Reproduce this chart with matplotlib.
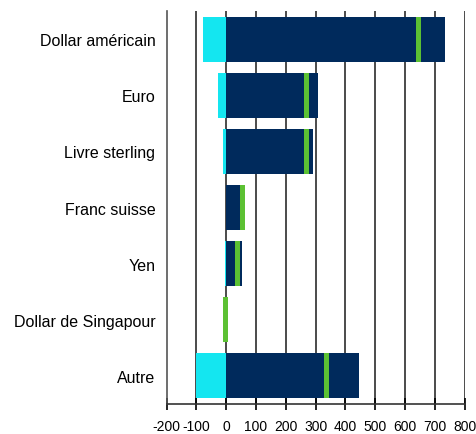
import matplotlib.pyplot as plt
import numpy as np

plt.rcParams["font.family"] = ["Liberation Sans", "DejaVu Sans"]
plt.rcParams["axes.unicode_minus"] = False

categories = ["Dollar américain", "Euro", "Livre sterling", "Franc suisse",
              "Yen", "Dollar de Singapour", "Autre"]
negatives = [-77, -27, -10, 0, -3, 0, -100]
positives = [735, 308, 292, 47, 54, 0, 447]
markers = [645, 270, 270, 55, 38, -2, 337]

navy = "#002a5c"
cyan = "#14e6f0"
green = "#5cc133"

fig = plt.figure(figsize=(4.76, 4.35), dpi=100)
ax = fig.add_axes([0.350, 0.069, 0.626, 0.903])

y = np.arange(len(categories))
ax.barh(y, negatives, height=0.8, color=cyan, zorder=2)
ax.barh(y, positives, height=0.8, color=navy, zorder=2)
ax.barh(y, 15, left=np.array(markers) - 7.5, height=0.8, color=green, zorder=3)

ax.set_xlim(-200, 800)
ax.set_ylim(6.5, -0.5)
ax.set_xticks(np.arange(-200, 801, 100))
ax.set_yticks(y)
ax.set_yticklabels(categories, fontsize=11.5)
ax.tick_params(axis="x", labelsize=10, direction="inout", length=8, width=1.2, pad=7)
ax.tick_params(axis="y", length=0, pad=8)

for xv in range(-100, 801, 100):
    ax.axvline(xv, color="#1a1a1a", lw=1.1, zorder=1)

for s in ["top", "right"]:
    ax.spines[s].set_visible(False)
ax.spines["left"].set_color("#555555")
ax.spines["left"].set_linewidth(1.2)
ax.spines["bottom"].set_color("#333333")
ax.spines["bottom"].set_linewidth(1.2)

fig.savefig("out.png", dpi=100)
